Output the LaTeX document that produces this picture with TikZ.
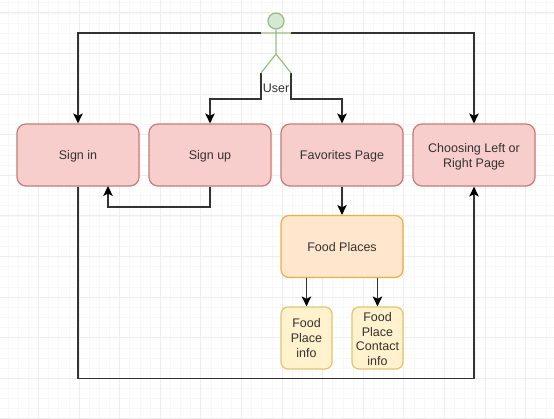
\documentclass[tikz,border=0pt]{standalone}
\usepackage{fontspec}
\setmainfont{Liberation Sans}
\usetikzlibrary{arrows.meta,calc}
\definecolor{redfill}{HTML}{F8CECC}
\definecolor{redline}{HTML}{C77A76}
\definecolor{orfill}{HTML}{FFE6CC}
\definecolor{orline}{HTML}{E8B040}
\definecolor{yefill}{HTML}{FFF2CC}
\definecolor{yeline}{HTML}{E2C46E}
\definecolor{grfill}{HTML}{D5E8D4}
\definecolor{grline}{HTML}{95BF7C}
\newcommand\lowered[2][3pt]{\vbox{\kern#1\hbox{#2}}}
\tikzset{
  x=1pt,y=-1pt,
  box/.style={draw,rounded corners=9pt,line width=1.2pt,minimum width=122pt,minimum height=62pt,align=center,inner sep=0pt,text=black!80,font=\fontsize{12.5}{14.8}\selectfont},
  redbox/.style={box,draw=redline,fill=redfill},
  orbox/.style={box,draw=orline,fill=orfill,rounded corners=8pt},
  yebox/.style={box,draw=yeline,fill=yefill,minimum width=51pt,rounded corners=7pt},
  conn/.style={draw=black!80,line width=1.1pt,-{Stealth[length=10pt,width=9.5pt,inset=2.5pt,color=black]}},
  minorgrid/.style={draw=black!3,line width=.5pt},
  majorgrid/.style={draw=black!7,line width=.7pt},
  actorline/.style={draw=grline,line width=1.2pt}
}
\begin{document}
\begin{tikzpicture}
\useasboundingbox (0,0) rectangle (554,418);
\fill[white] (0,0) rectangle (554,418);
\foreach \k in {-20,...,35} {
  \draw[minorgrid] ({200.7+\k*10.15},0) -- ({200.7+\k*10.15},418);
  \draw[minorgrid] (0,{94+\k*10.15}) -- (554,{94+\k*10.15});
}
\foreach \k in {-5,...,9} {
  \draw[majorgrid] ({200.7+\k*40.6},0) -- ({200.7+\k*40.6},418);
  \draw[majorgrid] (0,{94+\k*40.6}) -- (554,{94+\k*40.6});
}
\node[redbox] (signin) at (78,155) {\lowered{Sign in}};
\node[redbox] (signup) at (210,155) {\lowered{Sign up}};
\node[redbox] (fav) at (342,155) {\lowered{Favorites Page}};
\node[redbox] (choose) at (474,155) {\lowered{\parbox[c]{110pt}{\centering Choosing Left or\\Right Page}}};
\node[orbox] (food) at (342,246.5) {\lowered[2pt]{Food Places}};
\node[yebox] (info) at (306.5,338) {Food\\Place\\info};
\node[yebox] (contact) at (377.5,338) {\lowered[2pt]{\parbox[c]{50pt}{\centering Food\\Place\\Contact\\info}}};
% actor
\coordinate (armL) at (261,33);
\coordinate (armR) at (291,33);
\coordinate (hip) at (276,54);
\coordinate (legL) at (261,73);
\coordinate (legR) at (291,73);
\node[circle,draw=grline,fill=grfill,line width=1.2pt,minimum size=16pt,inner sep=0pt] (head) at (276,21) {};
% connectors
\draw[conn] (armL) -| (signin.north);
\draw[conn] (armR) -| (choose.north);
\draw[conn] (legL) |- (210,99) -- (signup.north);
\draw[conn] (legR) |- (342,99) -- (fav.north);
\draw[conn] (signup.south) |- (108,207) -- (108,186);
\draw[conn] (fav.south) -- (food.north);
\draw[conn] (306.5,277.5) -- (info.north);
\draw[conn] (377.5,277.5) -- (contact.north);
\draw[conn] (signin.south) |- (474,378.5) -- (choose.south);
\draw[actorline] (head.south) -- (hip) (armL) -- (armR) (legL) -- (hip) -- (legR);
\node[font=\fontsize{12.5}{15}\selectfont,text=black!80,inner sep=0pt] (user) at (276,88) {User};
\end{tikzpicture}
\end{document}
